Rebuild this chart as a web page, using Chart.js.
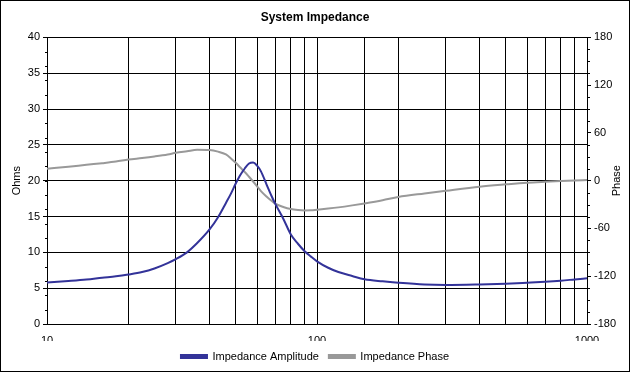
<!DOCTYPE html>
<html>
<head>
<meta charset="utf-8">
<script src="https://cdn.jsdelivr.net/npm/chart.js@4.4.1/dist/chart.umd.min.js"></script>
<style>
  html, body { margin: 0; padding: 0; background: #fff; }
  #wrap { width: 630px; height: 372px; }
</style>
</head>
<body>
<div id="wrap"><canvas id="impChart" width="630" height="372"></canvas></div>
<script>
const freqs = [10, 12, 14, 16, 18, 20, 22.5, 25, 28, 30, 33, 36, 40, 43, 46, 48, 50, 52, 54, 56, 58, 60, 62, 65, 68, 70, 75, 80, 85, 90, 95, 100, 110, 120, 135, 150, 175, 200, 250, 300, 400, 500, 600, 700, 800, 900, 1000];
const amplitude = [5.8, 6.0, 6.2, 6.45, 6.65, 6.9, 7.25, 7.75, 8.5, 9.05, 10.0, 11.3, 13.2, 14.9, 16.9, 18.2, 19.6, 20.8, 21.7, 22.4, 22.55, 22.1, 21.3, 19.5, 17.8, 16.8, 14.7, 12.5, 11.2, 10.15, 9.4, 8.75, 7.85, 7.25, 6.7, 6.25, 5.95, 5.75, 5.5, 5.44, 5.52, 5.63, 5.77, 5.9, 6.05, 6.22, 6.37];
const phase = [15, 17.5, 20, 22, 24, 26.5, 28.5, 30.5, 33, 35, 37, 38.8, 38.5, 36.5, 33, 28, 22.5, 16.5, 11, 5, -1, -7, -13, -19.8, -25.5, -28.9, -33, -35.6, -36.8, -37.3, -37.2, -36.4, -35, -33.5, -31, -28.5, -24.5, -20.5, -16, -12.6, -7.5, -4.6, -2.5, -1.3, -0.4, 0.3, 0.8];
const seriesNames = ['Impedance Amplitude', 'Impedance Phase'];
const ohmTicks = [0, 40, 5];
const phaseTicks = [-180, 180, 60];
const xLabels = [10, 100, 1000];

const FONT = 'Arial, "Liberation Sans", sans-serif';

// minor ticks, outer border and the right-hand title
const extras = {
  id: 'extras',
  beforeDraw(chart) {
    const { ctx } = chart;
    ctx.save();
    ctx.fillStyle = '#fff';
    ctx.fillRect(0, 0, chart.width, chart.height);
    ctx.restore();
  },
  afterDraw(chart) {
    const { ctx, scales } = chart;
    const y = scales.y;
    const y2 = scales.y2;
    ctx.save();
    ctx.strokeStyle = '#000';
    ctx.lineWidth = 1;
    ctx.beginPath();
    for (let v = 2; v < 40; v += 2) {
      const py = Math.round(y.getPixelForValue(v)) + 0.5;
      ctx.moveTo(y.right - 2, py);
      ctx.lineTo(y.right, py);
    }
    for (let v = -165; v < 180; v += 15) {
      if (v % 60 === 0) continue;
      const py = Math.round(y2.getPixelForValue(v)) + 0.5;
      ctx.moveTo(y2.left, py);
      ctx.lineTo(y2.left + 3, py);
    }
    ctx.stroke();

    ctx.strokeRect(0.5, 0.5, chart.width - 1, chart.height - 1);

    ctx.fillStyle = '#000';
    ctx.font = '11px ' + FONT;
    ctx.textAlign = 'center';
    ctx.textBaseline = 'middle';
    ctx.translate(617, (y2.top + y2.bottom) / 2);
    ctx.rotate(-Math.PI / 2);
    ctx.fillText('Phase', 0, 0);
    ctx.restore();
  },
};

const ctx = document.getElementById('impChart').getContext('2d');
new Chart(ctx, {
  type: 'line',
  data: {
    datasets: [
      {
        label: seriesNames[0],
        data: freqs.map((f, i) => ({ x: f, y: amplitude[i] })),
        borderColor: '#333399',
        backgroundColor: '#333399',
        borderWidth: 2,
        pointRadius: 0,
        cubicInterpolationMode: 'monotone',
        yAxisID: 'y',
      },
      {
        label: seriesNames[1],
        data: freqs.map((f, i) => ({ x: f, y: phase[i] })),
        borderColor: '#999999',
        backgroundColor: '#999999',
        borderWidth: 2,
        pointRadius: 0,
        cubicInterpolationMode: 'monotone',
        yAxisID: 'y2',
      },
    ],
  },
  options: {
    responsive: false,
    animation: false,
    devicePixelRatio: 1,
    layout: { padding: 0 },
    plugins: {
      title: {
        display: true,
        text: 'System Impedance',
        color: '#000',
        font: { family: FONT, size: 12, weight: 'bold' },
        padding: { top: 10, bottom: 13 },
      },
      legend: {
        position: 'bottom',
        labels: {
          color: '#000',
          font: { family: FONT, size: 11 },
          boxWidth: 26,
          boxHeight: 3,
          padding: 10,
        },
      },
      tooltip: { enabled: false },
    },
    scales: {
      x: {
        type: 'logarithmic',
        min: 10,
        max: 1000,
        afterFit: (scale) => { scale.height = 17; },
        grid: { color: '#000', lineWidth: 1, drawTicks: false },
        border: { color: '#000' },
        ticks: {
          autoSkip: false,
          maxRotation: 0,
          padding: 10,
          color: '#000',
          font: { family: FONT, size: 11 },
          callback: (v) => {
            const hit = xLabels.find((l) => Math.abs(l - v) < 1e-6);
            return hit ? String(hit) : '';
          },
        },
      },
      y: {
        position: 'left',
        min: ohmTicks[0],
        max: ohmTicks[1],
        afterFit: (scale) => { scale.width = 47; },
        grid: { color: '#000', lineWidth: 1, tickLength: 4 },
        border: { color: '#000' },
        ticks: {
          stepSize: ohmTicks[2],
          padding: 3,
          color: '#000',
          font: { family: FONT, size: 11 },
          callback: (v) => String(v),
        },
        title: {
          display: true,
          text: 'Ohms',
          color: '#000',
          font: { family: FONT, size: 11 },
          padding: { top: 10, bottom: 0 },
        },
      },
      y2: {
        position: 'right',
        min: phaseTicks[0],
        max: phaseTicks[1],
        afterFit: (scale) => { scale.width = 43; },
        grid: { drawOnChartArea: false, color: '#000', lineWidth: 1, tickLength: 4 },
        border: { color: '#000' },
        ticks: {
          stepSize: phaseTicks[2],
          padding: 3,
          color: '#000',
          font: { family: FONT, size: 11 },
          callback: (v) => String(v),
        },
      },
    },
  },
  plugins: [extras],
});
</script>
</body>
</html>
